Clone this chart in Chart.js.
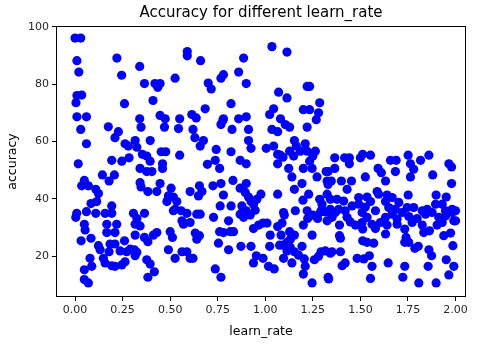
<!DOCTYPE html>
<html>
<head>
<meta charset="utf-8">
<script src="https://cdn.jsdelivr.net/npm/chart.js@4"></script>
<style>
  html, body { margin: 0; padding: 0; background: #fff; }
  canvas { display: block; }
</style>
</head>
<body>
<canvas id="scatter" width="479" height="344"></canvas>
<script>
// Data
const learnRate = [
  0.00,0.03,0.01,0.02,0.22,0.245,0.34,0.59,0.59,0.365,0.42,0.447,0.435,0.526,0.01,0.035,0.005,0.26,0.41,0.01,0.06,0.34,0.447,0.474,0.55,0.614,
  0.66,0.886,1.035,1.114,0.86,0.9,0.767,0.78,0.70,0.716,0.82,0.684,0.637,1.07,1.114,1.22,1.233,1.286,1.044,1.023,1.2,1.233,1.28,0.78,0.86,0.9,1.08,
  0.03,0.06,0.175,0.228,0.21,0.263,0.28,0.316,0.325,0.347,0.395,0.47,0.544,0.63,0.193,0.246,0.284,0.354,0.377,0.395,0.453,0.477,0.55,0.46,0.46,0.017,0.342,0.377,0.404,0.144,0.207,0.179,0.049,0.035,0.07,0.109,0.123,0.342,0.347,0.447,0.383,0.43,0.505,0.491,0.517,0.605,0.114,0.084,0.483,0.535,0.526,0.193,0.009,0.06,0.109,0.158,0.193,0.307,0.365,0.588,
  0.004,0.325,0.316,0.342,0.049,0.053,0.167,0.219,0.167,0.21,0.032,0.084,0.123,0.132,0.184,0.21,0.179,0.26,0.316,0.365,0.383,0.412,0.43,0.5,0.512,0.562,0.57,0.237,0.272,0.312,0.325,0.316,0.29,0.079,0.149,0.158,0.193,0.21,0.246,0.263,0.088,0.049,0.491,0.526,0.562,0.588,0.605,0.377,0.395,0.417,0.383,0.049,0.07,0.517,0.558,
  0.62,0.777,0.767,0.825,0.912,0.912,0.925,1.105,1.128,1.035,1.065,1.22,1.268,0.675,0.658,0.742,0.737,0.696,0.76,0.82,0.868,0.9,1.005,1.044,1.065,1.079,1.065,1.093,1.153,1.163,1.128,1.149,1.184,1.21,1.22,1.263,1.25,1.233,1.123,1.14,1.193,1.2,1.246,1.272,1.32,0.654,0.667,0.725,0.767,0.78,0.83,0.868,0.9,0.895,0.912,0.925,0.956,0.977,0.649,1.065,1.153,1.198,1.228,1.286,1.325,1.298,0.763,0.82,0.877,0.9,0.938,0.947,1.096,1.158,1.22,1.298,
  0.605,0.62,0.64,0.658,0.632,0.654,0.64,0.728,0.76,0.78,0.816,0.833,0.807,0.754,0.807,0.868,0.886,0.921,0.938,0.965,0.988,1.009,0.872,0.925,0.953,0.988,0.938,1.017,1.047,0.737,0.767,1.026,1.023,1.065,1.088,1.1,1.083,1.128,1.153,1.132,1.114,1.075,1.096,1.132,1.153,1.114,1.096,1.14,1.175,1.193,1.205,1.2,1.223,1.246,1.25,1.275,1.29,1.258,1.21,1.2,1.246,1.293,1.316,1.342,1.333,1.28,
  1.365,1.417,1.442,1.442,1.5,1.512,1.553,1.658,1.688,1.751,1.763,1.78,1.816,1.86,1.965,1.979,1.365,1.33,1.593,1.61,1.684,1.526,1.763,1.88,1.325,1.347,1.4,1.453,1.33,1.632,1.979,1.43,1.588,1.64,1.751,1.898,1.951,
  1.342,1.377,1.412,1.491,1.535,1.553,1.596,1.632,1.667,1.702,1.746,1.78,1.825,1.895,1.93,1.982,1.342,1.386,1.456,1.491,1.526,1.579,1.649,1.684,1.851,1.947,2.0,
  1.325,1.39,1.39,1.395,1.35,1.395,1.404,1.42,1.33,1.447,1.474,1.509,1.512,1.561,1.579,1.605,1.632,1.64,1.512,1.535,1.57,1.483,1.518,1.547,1.561,1.553,1.646,1.693,1.733,1.74,1.754,1.733,1.733,1.723,1.807,1.772,1.798,1.825,1.833,1.863,1.903,1.786,1.804,1.86,1.874,1.856,1.951,1.991,1.965,1.898,1.938,1.986,1.974,1.991,1.982,1.93,1.912,2.0,
  1.316,1.368,1.42,1.509,1.667,1.719,1.842,1.877,1.535,1.632,1.693,1.754,1.947,1.43,1.351
];
const accuracy = [
  96.1,96.1,88.2,84.2,89.1,83.1,86.2,91.4,89.9,80.2,80.2,80.2,78.9,82.1,76.0,76.2,73.5,73.2,74.3,68.6,68.6,67.9,69.1,67.9,67.9,69.4,
  88.2,89.1,93.1,91.2,84.2,80.2,82.1,83.3,80.4,78.3,73.2,71.4,68.2,77.2,75.2,79.2,79.2,73.5,71.4,69.4,71.1,71.1,70.0,67.9,67.9,68.6,67.9,
  64.2,59.2,65.1,63.4,61.3,59.2,58.4,60.3,58.0,65.0,60.3,65.0,64.5,61.3,53.4,53.1,54.3,55.5,54.9,53.1,56.4,56.4,55.2,52.2,50.6,52.2,50.6,49.5,49.5,48.3,48.3,46.2,46.4,44.5,44.5,43.3,41.8,45.6,44.1,45.3,42.5,42.5,43.7,41.0,40.6,42.5,39.0,38.3,39.0,39.0,36.3,37.5,34.9,35.5,34.9,34.9,34.9,34.9,34.9,34.9,
  33.5,33.1,31.1,30.5,31.1,29.1,31.1,31.1,28.2,28.2,25.3,26.2,23.6,22.2,24.2,24.2,21.5,25.3,27.3,26.5,25.0,27.3,28.2,28.5,26.5,32.3,31.1,21.8,21.5,22.2,21.3,20.1,22.4,19.2,19.2,17.6,16.6,16.4,16.9,18.0,16.4,15.2,22.2,19.2,21.5,21.5,19.2,18.7,17.2,14.5,12.6,11.8,10.6,35.8,35.8,
  64.2,67.3,65.9,64.2,64.2,60.3,57.6,65.9,65.0,64.2,63.4,65.0,67.6,60.3,58.4,57.2,53.4,52.0,50.6,56.4,53.4,52.2,57.6,58.4,55.5,55.2,52.2,54.5,60.3,58.4,56.6,54.9,56.6,59.2,56.6,56.6,54.9,53.1,50.6,47.6,45.3,50.6,50.6,47.6,49.5,44.5,42.5,44.5,45.3,41.3,46.4,43.7,45.3,42.2,40.6,39.0,39.8,41.6,41.0,41.6,43.3,39.5,41.6,39.8,41.6,38.1,37.5,37.5,37.5,35.8,38.1,36.0,35.2,35.8,35.8,36.3,
  31.7,19.2,34.6,34.6,28.0,27.1,25.9,33.5,28.5,28.2,28.5,28.5,32.3,24.5,22.2,34.6,33.5,34.3,29.6,30.8,31.5,31.5,23.4,23.4,20.1,19.2,17.6,16.4,15.5,15.5,12.6,27.3,23.4,30.3,31.5,34.3,27.3,28.5,27.3,25.9,24.8,23.8,23.8,23.0,21.5,21.8,19.2,17.6,20.3,23.4,19.0,30.8,33.1,27.3,34.3,33.1,35.4,18.7,16.4,13.7,10.6,21.5,21.8,21.0,12.0,19.9,
  54.3,54.3,54.3,52.2,54.3,55.5,55.2,53.4,53.4,55.2,52.2,50.3,53.4,55.2,52.2,51.1,50.6,49.5,50.6,49.1,49.5,47.6,47.6,48.3,46.2,46.2,46.2,46.2,45.0,46.2,45.3,43.3,42.5,41.3,41.3,41.3,40.6,
  39.8,39.8,39.2,40.4,40.6,39.0,41.6,39.0,40.4,38.7,36.9,36.9,35.8,38.1,38.1,36.3,36.3,36.3,37.5,38.1,37.1,35.8,36.9,36.3,36.3,35.8,35.8,
  32.3,30.8,27.1,26.2,21.5,21.5,16.6,17.6,12.6,31.9,30.8,31.7,29.4,31.1,29.6,31.7,27.7,30.8,25.3,24.8,24.5,19.2,19.0,20.1,16.4,12.2,17.6,31.1,29.4,26.5,24.8,24.8,16.4,12.6,10.6,31.7,33.1,30.8,28.2,28.8,30.8,22.7,23.4,22.2,20.1,16.4,18.7,16.4,13.4,10.6,27.1,23.6,28.0,32.3,35.2,31.7,33.5,32.3,
  35.4,35.2,35.8,35.2,34.6,35.2,34.6,35.2,33.5,33.5,32.9,33.8,34.0,33.5,33.5
];
const xTicks = [0, 0.25, 0.5, 0.75, 1.0, 1.25, 1.5, 1.75, 2.0];
const yTicks = [20, 40, 60, 80, 100];

const points = learnRate.map((x, i) => ({ x: x, y: accuracy[i] }));

// matplotlib-like frame and title
const framePlugin = {
  id: 'frame',
  afterDraw(chart) {
    const { ctx, chartArea: a } = chart;
    ctx.save();
    ctx.strokeStyle = '#000';
    ctx.lineWidth = 1;
    ctx.strokeRect(a.left + 0.5, a.top + 0.5, a.right - a.left - 1, a.bottom - a.top - 1);
    ctx.fillStyle = '#000';
    ctx.font = '15px "DejaVu Sans"';
    ctx.textAlign = 'center';
    ctx.textBaseline = 'alphabetic';
    ctx.fillText('Accuracy for different learn_rate', (a.left + a.right) / 2, a.top - 9.5);
    ctx.restore();
  }
};

const tickFont = { family: 'DejaVu Sans', size: 11 };
const labelFont = { family: 'DejaVu Sans', size: 12.5 };

new Chart(document.getElementById('scatter'), {
  type: 'scatter',
  data: {
    datasets: [{
      data: points,
      backgroundColor: '#0000ff',
      borderWidth: 0,
      pointRadius: 4.6,
      pointHoverRadius: 4.6
    }]
  },
  options: {
    responsive: false,
    animation: false,
    devicePixelRatio: 1,
    layout: { padding: { top: 26, right: 13, left: 0, bottom: 0 } },
    plugins: { legend: { display: false }, tooltip: { enabled: false } },
    scales: {
      x: {
        type: 'linear',
        min: -0.1,
        max: 2.055,
        afterBuildTicks: s => { s.ticks = xTicks.map(v => ({ value: v })); },
        afterFit: s => { s.height = 47; },
        ticks: { font: tickFont, color: '#262626', padding: 3, maxRotation: 0,
                 callback: v => Number(v).toFixed(2) },
        grid: { drawOnChartArea: false, drawTicks: true, tickLength: 4, color: '#000' },
        border: { display: false },
        title: { display: true, text: 'learn_rate', font: labelFont,
                 color: '#000', padding: { top: 0, bottom: 5 } }
      },
      y: {
        type: 'linear',
        min: 5.7,
        max: 100.3,
        afterBuildTicks: s => { s.ticks = yTicks.map(v => ({ value: v })); },
        afterFit: s => { s.width = 56; },
        ticks: { font: tickFont, color: '#262626', padding: 3 },
        grid: { drawOnChartArea: false, drawTicks: true, tickLength: 4, color: '#000' },
        border: { display: false },
        title: { display: true, text: 'accuracy', font: labelFont,
                 color: '#000', padding: { top: 5, bottom: 0 } }
      }
    }
  },
  plugins: [framePlugin]
});
</script>
</body>
</html>
